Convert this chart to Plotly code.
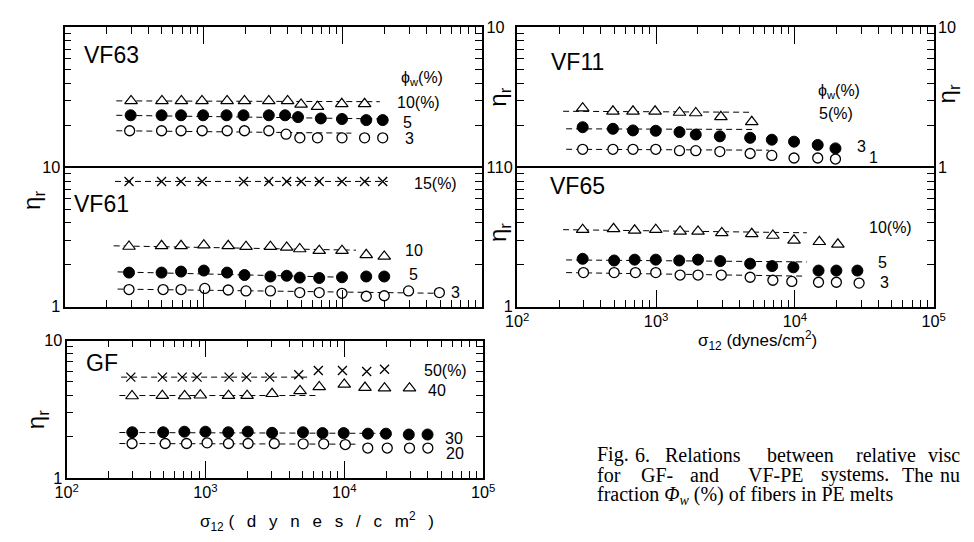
import plotly.graph_objects as go

W, H = 974, 542

# ---------------- data (shear stress sigma12 in dynes/cm2, relative viscosity eta_r) ----------------
# VF63 (top-left, upper sub-panel)
vf63_tri_x = [300, 500, 690, 970, 1470, 1960, 2930, 4000, 5000, 6560, 9800, 14300]
vf63_tri_y = [2.99, 2.99, 2.99, 2.99, 2.99, 2.99, 2.99, 2.99, 2.82, 2.72, 2.85, 2.85]
vf63_fil_x = [298, 497, 686, 989, 1456, 1928, 2931, 3837, 4753, 6930, 9840, 14700, 19300]
vf63_fil_y = [2.36, 2.36, 2.36, 2.36, 2.36, 2.36, 2.36, 2.36, 2.29, 2.24, 2.22, 2.18, 2.18]
vf63_cir_x = [293, 497, 686, 973, 1472, 1959, 2931, 3900, 4900, 6560, 9840, 14300, 19300]
vf63_cir_y = [1.83, 1.83, 1.83, 1.83, 1.83, 1.83, 1.83, 1.73, 1.63, 1.63, 1.63, 1.63, 1.63]

# VF61 (top-left, lower sub-panel)
vf61_crs_x = [290, 497, 686, 973, 1930, 2930, 3940, 5020, 6750, 9840, 14300, 19300]
vf61_crs_y = [7.95, 7.95, 7.95, 7.95, 7.95, 7.95, 7.95, 7.95, 7.95, 7.95, 7.95, 7.95]
vf61_tri_x = [290, 497, 686, 1000, 1497, 2010, 3010, 3940, 4890, 6750, 9840, 14700, 19800]
vf61_tri_y = [2.71, 2.74, 2.74, 2.77, 2.74, 2.70, 2.70, 2.67, 2.60, 2.53, 2.53, 2.36, 2.30]
vf61_fil_x = [290, 497, 686, 1000, 1470, 1960, 3010, 3940, 4890, 6750, 9840, 14700, 19800]
vf61_fil_y = [1.76, 1.76, 1.79, 1.82, 1.76, 1.69, 1.65, 1.67, 1.62, 1.61, 1.63, 1.65, 1.65]
vf61_cir_x = [290, 510, 686, 1016, 1497, 2010, 3010, 4890, 6750, 9840, 14700, 19800, 29600, 49300]
vf61_cir_y = [1.33, 1.33, 1.33, 1.355, 1.32, 1.30, 1.30, 1.265, 1.265, 1.25, 1.19, 1.20, 1.30, 1.265]

# GF (bottom-left)
gf_crs_x = [290, 490, 680, 870, 1480, 1980, 2900, 4700, 6500, 9700, 14500, 19500]
gf_crs_y = [5.42, 5.42, 5.42, 5.42, 5.42, 5.42, 5.42, 5.64, 6.05, 6.05, 5.95, 6.18]
gf_tri_x = [296, 489, 708, 918, 1466, 1995, 3020, 4800, 6600, 10000, 14100, 19500, 29500]
gf_tri_y = [3.95, 3.97, 3.95, 4.0, 3.97, 3.97, 4.1, 4.3, 4.6, 4.8, 4.55, 4.5, 4.5]
gf_fil_x = [297, 496, 705, 1000, 1460, 2018, 3020, 5040, 6970, 9900, 14800, 19950, 29150, 39800]
gf_fil_y = [2.15, 2.15, 2.17, 2.17, 2.15, 2.17, 2.13, 2.15, 2.12, 2.12, 2.10, 2.10, 2.07, 2.07]
gf_cir_x = [296, 513, 731, 1028, 1466, 2028, 3133, 5058, 7112, 10170, 14760, 20400, 29500, 40000]
gf_cir_y = [1.78, 1.78, 1.78, 1.80, 1.78, 1.78, 1.78, 1.77, 1.77, 1.75, 1.65, 1.65, 1.65, 1.65]

# VF11 (top-right, upper sub-panel)
vf11_tri_x = [296, 489, 682, 984, 1475, 1932, 2931, 4890]
vf11_tri_y = [2.65, 2.52, 2.52, 2.52, 2.47, 2.45, 2.30, 2.12]
vf11_fil_x = [296, 489, 682, 995, 1475, 1932, 2880, 4760, 6820, 9860, 14600, 19600]
vf11_fil_y = [1.94, 1.89, 1.84, 1.83, 1.79, 1.72, 1.67, 1.63, 1.58, 1.53, 1.45, 1.37]
vf11_cir_x = [296, 489, 682, 995, 1475, 1932, 2880, 4760, 6820, 9860, 14600, 19600]
vf11_cir_y = [1.35, 1.35, 1.35, 1.35, 1.32, 1.32, 1.30, 1.26, 1.22, 1.17, 1.17, 1.15]

# VF65 (top-right, lower sub-panel)
vf65_tri_x = [296, 494, 701, 995, 1490, 2005, 2976, 4890, 6940, 9860, 15000, 20400]
vf65_tri_y = [3.58, 3.63, 3.54, 3.58, 3.48, 3.48, 3.39, 3.34, 3.25, 3.00, 2.93, 2.81]
vf65_fil_x = [296, 499, 701, 995, 1468, 2005, 2897, 4760, 6860, 9750, 14800, 19900, 28200]
vf65_fil_y = [2.21, 2.15, 2.18, 2.18, 2.15, 2.18, 2.13, 2.04, 1.96, 1.92, 1.82, 1.82, 1.82]
vf65_cir_x = [300, 499, 710, 995, 1490, 2005, 2950, 4760, 6940, 9500, 14800, 19900, 29000]
vf65_cir_y = [1.76, 1.76, 1.76, 1.76, 1.69, 1.69, 1.69, 1.63, 1.55, 1.52, 1.50, 1.50, 1.48]

# dashed guide lines: [sigma_start, sigma_end], [eta_start, eta_end]
vf63_tri_line = ([235, 18400], [2.99, 2.95])
vf63_fil_line = ([235, 20000], [2.36, 2.22])
vf63_cir_line = ([235, 11500], [1.83, 1.76])
vf61_crs_line = ([230, 21000], [7.95, 7.95])
vf61_tri_line = ([225, 12400], [2.74, 2.55])
vf61_fil_line = ([240, 10000], [1.78, 1.63])
vf61_cir_line = ([240, 47000], [1.34, 1.25])
gf_crs_line = ([247, 5400], [5.42, 5.42])
gf_tri_line = ([240, 6600], [3.98, 3.98])
gf_fil_line = ([240, 21000], [2.14, 2.11])
gf_cir_line = ([240, 12300], [1.78, 1.76])
vf11_tri_line = ([214, 4800], [2.52, 2.48])
vf11_fil_line = ([225, 5200], [1.89, 1.87])
vf11_cir_line = ([225, 6500], [1.35, 1.33])
vf65_tri_line = ([214, 12200], [3.58, 3.40])
vf65_fil_line = ([225, 12200], [2.17, 2.10])
vf65_cir_line = ([225, 11500], [1.76, 1.66])

# ---------------- figure ----------------
fig = go.Figure()

panels = {
    "A": dict(n="", xd=(54, 482), yd=(19, 164)),
    "B": dict(n="2", xd=(54, 482), yd=(164, 308)),
    "C": dict(n="3", xd=(56, 483), yd=(343, 485)),
    "D": dict(n="4", xd=(518, 945), yd=(19, 164)),
    "E": dict(n="5", xd=(518, 945), yd=(164, 308)),
}

LINE = dict(color="black", width=1, dash="6px,4px")
STY = {
    "cir": dict(symbol="circle", size=10, color="white", line=dict(color="black", width=1.3)),
    "fil": dict(symbol="circle", size=11, color="black", line=dict(color="black", width=1)),
    "tri": dict(symbol="triangle-up", size=11, color="white", line=dict(color="black", width=1.2)),
    "crs": dict(symbol="x-thin-open", size=9, color="black", line=dict(color="black", width=1.3)),
}


def add_series(panel, kind, xs, ys, line):
    n = panels[panel]["n"]
    fig.add_trace(go.Scatter(x=line[0], y=line[1], mode="lines", line=LINE,
                             xaxis="x" + n, yaxis="y" + n, hoverinfo="skip"))
    fig.add_trace(go.Scatter(x=xs, y=ys, mode="markers", marker=STY[kind],
                             xaxis="x" + n, yaxis="y" + n))


add_series("A", "tri", vf63_tri_x, vf63_tri_y, vf63_tri_line)
add_series("A", "fil", vf63_fil_x, vf63_fil_y, vf63_fil_line)
add_series("A", "cir", vf63_cir_x, vf63_cir_y, vf63_cir_line)
add_series("B", "crs", vf61_crs_x, vf61_crs_y, vf61_crs_line)
add_series("B", "tri", vf61_tri_x, vf61_tri_y, vf61_tri_line)
add_series("B", "fil", vf61_fil_x, vf61_fil_y, vf61_fil_line)
add_series("B", "cir", vf61_cir_x, vf61_cir_y, vf61_cir_line)
add_series("C", "crs", gf_crs_x, gf_crs_y, gf_crs_line)
add_series("C", "tri", gf_tri_x, gf_tri_y, gf_tri_line)
add_series("C", "fil", gf_fil_x, gf_fil_y, gf_fil_line)
add_series("C", "cir", gf_cir_x, gf_cir_y, gf_cir_line)
add_series("D", "tri", vf11_tri_x, vf11_tri_y, vf11_tri_line)
add_series("D", "fil", vf11_fil_x, vf11_fil_y, vf11_fil_line)
add_series("D", "cir", vf11_cir_x, vf11_cir_y, vf11_cir_line)
add_series("E", "tri", vf65_tri_x, vf65_tri_y, vf65_tri_line)
add_series("E", "fil", vf65_fil_x, vf65_fil_y, vf65_fil_line)
add_series("E", "cir", vf65_cir_x, vf65_cir_y, vf65_cir_line)

TICKFONT = dict(family="Liberation Sans, Arial, sans-serif", size=13, color="black")


def xcfg(p, side, labels, mirror):
    d = panels[p]
    return dict(type="log", range=[2, 5], domain=[d["xd"][0] / W, d["xd"][1] / W],
                anchor="y" + d["n"], side=side, showticklabels=labels, exponentformat="power",
                dtick=1, ticks="inside", ticklen=17, tickwidth=1, tickcolor="black",
                minor=dict(ticks="inside", ticklen=7, tickwidth=1, tickcolor="black",
                           dtick="D1", showgrid=False),
                showline=True, linecolor="black", linewidth=1.5, mirror=mirror,
                showgrid=False, zeroline=False, tickfont=TICKFONT, fixedrange=True)


def ycfg(p, side, mirror="ticks"):
    d = panels[p]
    return dict(type="log", range=[0, 1], domain=[1 - d["yd"][1] / H, 1 - d["yd"][0] / H],
                anchor="x" + d["n"], side=side, showticklabels=True, exponentformat="power",
                dtick=1, ticks="inside", ticklen=7, tickwidth=1, tickcolor="black",
                minor=dict(ticks="inside", ticklen=7, tickwidth=1, tickcolor="black",
                           dtick="D1", showgrid=False),
                showline=True, linecolor="black", linewidth=1.5, mirror=mirror,
                showgrid=False, zeroline=False, tickfont=TICKFONT, fixedrange=True)


fig.update_layout(
    width=W, height=H, margin=dict(l=0, r=0, t=0, b=0),
    paper_bgcolor="white", plot_bgcolor="white", showlegend=False,
    xaxis=xcfg("A", "top", False, False),
    yaxis=ycfg("A", "right"),
    xaxis2=xcfg("B", "bottom", False, True),
    yaxis2=ycfg("B", "left"),
    xaxis3=xcfg("C", "bottom", True, "ticks"),
    yaxis3=ycfg("C", "left"),
    xaxis4=xcfg("D", "top", False, False),
    yaxis4=ycfg("D", "right"),
    xaxis5=xcfg("E", "bottom", True, True),
    yaxis5=ycfg("E", "left"),
)

SANS = "Liberation Sans, Arial, sans-serif"
SERIF = "Liberation Serif, Times New Roman, serif"
anns = []


def txt(s, x, y, size=16, family=SANS, xanchor="center", angle=0):
    anns.append(dict(text=s, x=x / W, y=1 - y / H, xref="paper", yref="paper",
                     showarrow=False, xanchor=xanchor, yanchor="middle", textangle=angle,
                     font=dict(family=family, size=size, color="black")))


# panel names
txt("VF63", 102, 48, 23)
txt("VF61", 92, 202, 23)
txt("GF", 92, 366, 23)
txt("VF11", 580, 55, 23)
txt("VF65", 580, 183, 23)

# concentration labels
txt("ϕ<sub>w</sub>(%)", 420, 72)
txt("10(%)", 417, 97)
txt("5", 406, 117)
txt("3", 408, 134)
txt("15(%)", 434, 180)
txt("10", 412, 250)
txt("5", 412, 275)
txt("3", 455, 293)
txt("ϕ<sub>w</sub>(%)", 848, 85)
txt("5(%)", 845, 108)
txt("3", 871, 142)
txt("1", 883, 154)
txt("10(%)", 901, 226)
txt("5", 893, 262)
txt("3", 895, 283)
txt("50(%)", 444, 374)
txt("40", 436, 395)
txt("30", 453, 444)
txt("20", 454, 460)

# axis titles
for (ex, ey) in [(22, 198), (500, 91), (500, 231), (960, 88), (27, 425)]:
    txt("η<sub>r</sub>", ex, ey, 24, angle=-90)
sp = "\u2002\u2005"
txt("σ<sub>12</sub> " + sp.join(list("(dynes/cm")) + "<sup>2</sup>" + sp + ")", 313, 530, 17)
txt("σ<sub>12</sub> (dynes/cm<sup>2</sup>)", 764, 343, 17)

# caption (justified lines cut at the right edge of the picture)
CAP = 20
cap1 = [("Fig.", 598), ("6.", 637), ("Relations", 667), ("between", 772), ("relative", 863)]
cap2 = [("for", 598), ("GF-", 643), ("and", 693), ("VF-PE", 753), ("systems.", 827), ("The", 910)]
for w, x in cap1:
    txt(w, x, 461, CAP, SERIF, "left")
txt("visc", 974, 461, CAP, SERIF, "right")
for w, x in cap2:
    txt(w, x, 482, CAP, SERIF, "left")
txt("nu", 974, 482, CAP, SERIF, "right")
txt("fraction <i>Φ</i><sub><i>w</i></sub> (%) of fibers in PE melts", 598, 503, CAP, SERIF, "left")

fig.update_layout(annotations=anns)
fig.write_html("out.html")
